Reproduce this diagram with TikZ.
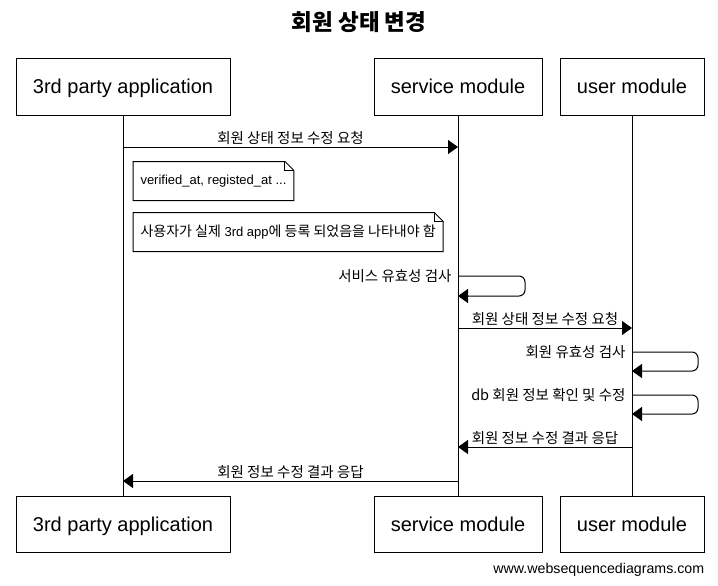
\documentclass[tikz,border=0pt]{standalone}
\usepackage{fontspec}
\setmainfont{Liberation Sans}
\newfontfamily\kr{Noto Sans CJK KR}
\newcommand{\krtext}{\kr\fontsize{14.5}{17}\selectfont}
\newcommand{\krnote}{\kr\fontsize{14}{16}\selectfont}
\usetikzlibrary{arrows.meta}
\usetikzlibrary{calc}
\tikzstyle{actor} = [draw, minimum height=56pt, text height=18pt, text depth=4pt,
font=\fontsize{20}{24}\selectfont]
\tikzstyle{life} = [draw]
\tikzstyle{msg} = [draw, -{Triangle[length=10pt,width=14pt]}]
\tikzstyle{lbl} = [font=\krtext, inner sep=2pt]
\tikzstyle{notetext} = [anchor=west, minimum height=38pt, inner xsep=7pt,
font=\fontsize{13}{15}\selectfont]
\newcommand{\notefold}[1]{%
\draw (#1.north west) -- ($(#1.north east)+(-9,0)$) -- ($(#1.north east)+(0,9)$)
  -- (#1.south east) -- (#1.south west) -- cycle;
\draw ($(#1.north east)+(-9,0)$) -- ($(#1.north east)+(-9,9)$) -- ($(#1.north east)+(0,9)$);}

\begin{document}
\begin{tikzpicture}[x=1pt, y=-1pt, line width=1pt]
\useasboundingbox (0,0) rectangle (718,586);
\node [font=\kr\bfseries\fontsize{22.5}{26}\selectfont] (title) at (359,22) {회원 상태 변경};
%% Participants
\node [actor, minimum width=214pt] (app) at (123,87) {3rd party application};
\node [actor, minimum width=168pt] (svc) at (458,87) {service module};
\node [actor, minimum width=144pt] (usr) at (632,87) {user module};
\node [actor, minimum width=214pt] (appb) at (123,524) {3rd party application};
\node [actor, minimum width=168pt] (svcb) at (458,524) {service module};
\node [actor, minimum width=144pt] (usrb) at (632,524) {user module};
%% Lifelines
\path [life] (app) -- (appb);
\path [life] (svc) -- (svcb);
\path [life] (usr) -- (usrb);
%% Message end points
\coordinate (m1a) at (123,147); \coordinate (m1b) at (458,147);
\coordinate (s1a) at (458,276); \coordinate (s1b) at (458,296);
\coordinate (m2a) at (458,328); \coordinate (m2b) at (632,328);
\coordinate (s2a) at (632,352); \coordinate (s2b) at (632,371);
\coordinate (s3a) at (632,395); \coordinate (s3b) at (632,414);
\coordinate (r1a) at (632,447); \coordinate (r1b) at (458,447);
\coordinate (r2a) at (458,481); \coordinate (r2b) at (123,481);
%% Requests
\path [msg] (m1a) -- node [lbl, above] {회원 상태 정보 수정 요청} (m1b);
\path [msg] (m2a) -- node [lbl, above] {회원 상태 정보 수정 요청} (m2b);
%% Notes
\node [notetext] (n1) at (133,181) {verified\_at, registed\_at ...};
\node [notetext] (n2) at (133,232) {{\krnote 사용자가 실제} 3rd app{\krnote 에 등록 되었음을 나타내야 함}};
\notefold{n1}
\notefold{n2}
%% Self checks
\path [msg, rounded corners=6pt] (s1a) -- ++(67,0) -- ++(0,20) -- (s1b);
\node [lbl, anchor=east] at ($(s1a)+(-4,0)$) {서비스 유효성 검사};
\path [msg, rounded corners=6pt] (s2a) -- ++(66,0) -- ++(0,19) -- (s2b);
\node [lbl, anchor=east] at ($(s2a)+(-4,0)$) {회원 유효성 검사};
\path [msg, rounded corners=6pt] (s3a) -- ++(66,0) -- ++(0,19) -- (s3b);
\node [lbl, anchor=east] at ($(s3a)+(-4,0)$) {db {\kr 회원 정보 확인 및 수정}};
%% Responses
\path [msg] (r1a) -- node [lbl, above] {회원 정보 수정 결과 응답} (r1b);
\path [msg] (r2a) -- node [lbl, above] {회원 정보 수정 결과 응답} (r2b);
\node [anchor=east, font=\fontsize{14.2}{16}\selectfont] (site) at (708,570) {www.websequencediagrams.com};
\end{tikzpicture}
\end{document}
